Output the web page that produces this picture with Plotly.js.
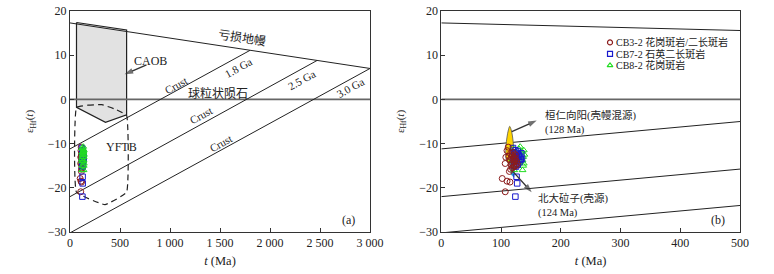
<!DOCTYPE html>
<html><head><meta charset="utf-8">
<script src="https://cdn.plot.ly/plotly-3.0.1.min.js"></script>
<style>html,body{margin:0;padding:0;background:#fff}</style>
</head><body><div id="chart" style="width:774px;height:274px"></div>
<script>
// ---- sample data: t (Ma), eHf(t) ----
const cb32_t = [102,107,110,115,107,108,110,112,114,116,118,120,122,124,125,117,119,121,123,126,115,118,120,122,124,127,116,119,121,113];
const cb32_e = [-17.9,-20.9,-18.5,-18.7,-14.5,-13.1,-11.6,-10.8,-16.3,-12.2,-12.8,-13.5,-14.2,-12.5,-15.0,-14.8,-15.5,-13.0,-13.8,-14.0,-13.6,-14.4,-12.0,-15.2,-13.3,-14.6,-15.8,-12.6,-14.9,-12.9];
const cb72_t = [126,127,124,120,122,124,126,128,130,132,134,121,123,125,127,129,131,133,122,125,128,130,135,124,127];
const cb72_e = [-17.5,-19.0,-22.0,-11.0,-12.0,-11.5,-12.3,-11.8,-12.5,-13.0,-12.2,-13.5,-14.0,-13.2,-14.5,-13.8,-14.2,-13.6,-15.0,-15.2,-14.8,-12.8,-13.5,-12.9,-13.1];
const cb82_t = [132,136,138,137,139,137,135,133,136,138,130,132,128,120,122,124,121,123,125,119,122];
const cb82_e = [-10.7,-16.0,-14.5,-13.0,-12.5,-15.0,-11.8,-12.0,-13.8,-11.5,-11.2,-14.0,-12.5,-11.0,-12.0,-13.0,-14.0,-15.0,-12.5,-13.5,-16.0];
const seriesNames = ['CB3-2 花岗斑岩/二长斑岩','CB7-2 石英二长斑岩','CB8-2 花岗斑岩'];

// ---- reference evolution lines ----
const dm_t = [0, 3000],      dm_e = [17.3, 7.0];
const chur_t = [0, 3000],    chur_e = [0, 0];
const c18_t = [0, 1800],     c18_e = [-11.2, 11.1];
const c25_t = [0, 2470],     c25_e = [-22.0, 8.8];
const c30_t = [0, 3000],     c30_e = [-30.2, 7.0];

// ---- fields ----
const caob_t = [65, 566, 566, 355, 65, 65];
const caob_e = [17.4, 15.7, -3.5, -5.2, -1.8, 17.4];
const yftb_t = [65, 180, 320, 450, 566, 566, 350, 65, 65];
const yftb_e = [-1.8, -1.3, -1.2, -2.2, -3.6, -21.0, -23.8, -21.0, -1.8];
const hr_t = [114.5, 117, 119.3, 120.8, 121, 119.5, 114.5, 109.5, 108, 108.3, 110, 112.3, 114.5];   // Huanren Xiangyang
const hr_e = [-6.1, -6.9, -8.5, -10.5, -12.5, -14, -14.5, -14, -12.5, -10.5, -8.5, -6.9, -6.1];
const bd_t = [118, 121, 123, 121.5, 117, 115, 118];   // Beidawozi
const bd_e = [-11.0, -12.0, -15.0, -17.6, -17.0, -14.0, -11.0];

// ---- pointer arrows (tail -> head) ----
const arrCAOB_t = [765, 546],  arrCAOB_e = [7.8, 5.7];
const arrHR_t = [118, 159.7],  arrHR_e = [-7.3, -4.8];
const arrBD_t = [120.5, 151.3], arrBD_e = [-16.4, -21.0];

const LC = '#222';
const serif = 'Liberation Serif, Noto Sans CJK SC, serif';
const cjk = 'Liberation Serif, Noto Sans CJK SC, serif';

function line(x, y, xa, ya, extra) {
  return Object.assign({type:'scatter', mode:'lines', x:x, y:y, xaxis:xa, yaxis:ya,
    line:{color:LC, width:1}, showlegend:false, hoverinfo:'skip'}, extra || {});
}
function arrowTrace(x, y, xa, ya) {
  return {type:'scatter', mode:'lines+markers', x:x, y:y, xaxis:xa, yaxis:ya, cliponaxis:false,
    line:{color:'#333', width:1.3},
    marker:{symbol:['circle', 'arrow'], size:[0.1, 9], angleref:'previous', color:'#333', line:{width:0}},
    showlegend:false, hoverinfo:'skip'};
}
function sampleTrace(i, xa, ya) {
  const xs = [cb32_t, cb72_t, cb82_t][i], ys = [cb32_e, cb72_e, cb82_e][i];
  const sym = ['circle-open', 'square-open', 'triangle-up-open'][i];
  const col = ['#8b1c1c', '#1a1acc', '#22dd22'][i];
  return {type:'scatter', mode:'markers', name:seriesNames[i], x:xs, y:ys, xaxis:xa, yaxis:ya,
    marker:{symbol:sym, size:(i === 1 ? 5.5 : 6), color:col, line:{width:1}}, showlegend:false};
}

const traces = [];
// panel a
traces.push(line(caob_t, caob_e, 'x', 'y', {fill:'toself', fillcolor:'#e2e2e2', line:{color:LC, width:1.2}}));
traces.push(line(chur_t, chur_e, 'x', 'y', {line:{color:'#666', width:1.6}}));
traces.push(line(dm_t, dm_e, 'x', 'y'));
traces.push(line(c18_t, c18_e, 'x', 'y'));
traces.push(line(c25_t, c25_e, 'x', 'y'));
traces.push(line(c30_t, c30_e, 'x', 'y'));
traces.push(line(yftb_t, yftb_e, 'x', 'y', {line:{color:LC, width:1.2, dash:'6px,4px', shape:'spline', smoothing:0.3}}));
traces.push(arrowTrace(arrCAOB_t, arrCAOB_e, 'x', 'y'));
[0, 1, 2].forEach(i => traces.push(sampleTrace(i, 'x', 'y')));
// panel b
traces.push(line(chur_t, chur_e, 'x2', 'y2', {line:{color:'#666', width:1.6}}));
traces.push(line(dm_t, dm_e, 'x2', 'y2'));
traces.push(line(c18_t, c18_e, 'x2', 'y2'));
traces.push(line(c25_t, c25_e, 'x2', 'y2'));
traces.push(line(c30_t, c30_e, 'x2', 'y2'));
traces.push(line(hr_t, hr_e, 'x2', 'y2', {fill:'toself', fillcolor:'#ffd400', line:{color:'#555', width:0.8, shape:'spline'}}));
traces.push(line(bd_t, bd_e, 'x2', 'y2', {fill:'toself', fillcolor:'#1e9be0', line:{color:'#1e9be0', width:0.5}}));
[2, 1, 0].forEach(i => traces.push(sampleTrace(i, 'x2', 'y2')));
traces.push(arrowTrace(arrHR_t, arrHR_e, 'x2', 'y2'));
traces.push(arrowTrace(arrBD_t, arrBD_e, 'x2', 'y2'));

// manual legend in panel b
const leg_t = [282.4, 282.4, 282.4];
const leg_e = [12.9, 10.3, 7.7];
const legSym = ['circle-open', 'square-open', 'triangle-up-open'];
const legCol = ['#8b1c1c', '#1a1acc', '#22dd22'];
for (let i = 0; i < 3; i++) {
  traces.push({type:'scatter', mode:'markers', x:[leg_t[i]], y:[leg_e[i]], xaxis:'x2', yaxis:'y2',
    marker:{symbol:legSym[i], size:5, color:legCol[i], line:{width:1.2}}, showlegend:false, hoverinfo:'skip'});
}

function txt(x, y, text, xa, ya, opts) {
  return Object.assign({x:x, y:y, xref:xa, yref:ya, text:text, showarrow:false, borderpad:0,
    font:{family:cjk, size:12, color:'#222'}}, opts || {});
}
const f11 = {family:serif, size:11, color:'#222'};
const f10 = {family:cjk, size:10.5, color:'#222'};

const annotations = [
  txt(1715, 13.9, '亏损地幔', 'x', 'y', {textangle:8.6}),
  txt(800, 8.7, 'CAOB', 'x', 'y', {xanchor:'center'}),
  txt(1680, 7.0, '1.8 Ga', 'x', 'y', {textangle:-29, font:f11}),
  txt(1064, 3.3, 'Crust', 'x', 'y', {textangle:-29, font:f11}),
  txt(1480, 1.4, '球粒状陨石', 'x', 'y'),
  txt(2316, 4.4, '2.5 Ga', 'x', 'y', {textangle:-29, font:f11}),
  txt(1314, -3.5, 'Crust', 'x', 'y', {textangle:-29, font:f11}),
  txt(2800, 2.5, '3.0 Ga', 'x', 'y', {textangle:-29, font:f11}),
  txt(1514, -9.9, 'Crust', 'x', 'y', {textangle:-29, font:f11}),
  txt(345, -10.7, 'YFTB', 'x', 'y', {xanchor:'left', font:{family:serif, size:12, color:'#222'}}),
  txt(2783, -27.3, '(a)', 'x', 'y', {font:{family:serif, size:12, color:'#222'}}),
  // panel b
  txt(172, -5.4, '桓仁向阳(壳幔混源)', 'x2', 'y2', {xanchor:'left', yanchor:'bottom', font:f10}),
  txt(172, -5.4, '(128 Ma)', 'x2', 'y2', {xanchor:'left', yanchor:'top', font:f10}),
  txt(160, -24.1, '北大砬子(壳源)', 'x2', 'y2', {xanchor:'left', yanchor:'bottom', font:f10}),
  txt(160, -24.1, '(124 Ma)', 'x2', 'y2', {xanchor:'left', yanchor:'top', font:f10}),
  txt(463.6, -27.3, '(b)', 'x2', 'y2', {font:{family:serif, size:12, color:'#222'}})
];
for (let i = 0; i < 3; i++) {
  annotations.push(txt(291, leg_e[i], seriesNames[i], 'x2', 'y2', {xanchor:'left', font:{family:cjk, size:10, color:'#222'}}));
}

const xa_vals = [0, 500, 1000, 1500, 2000, 2500, 3000];
const xa_text = ['0', '500', '1 000', '1 500', '2 000', '2 500', '3 000'];
const xb_vals = [0, 100, 200, 300, 400, 500];
const y_vals = [-30, -20, -10, 0, 10, 20];

const axBase = {showline:true, linecolor:'#333', linewidth:1, mirror:true, ticks:'inside', ticklen:4,
  tickcolor:'#333', showgrid:false, zeroline:false, tickfont:{family:serif, size:12, color:'#222'}};
const ytitle1 = {text:'ε<sub>Hf</sub>(<i>t</i>)', font:{family:serif, size:11, color:'#222'}, standoff:11};
const ytitle2 = {text:'ε<sub>Hf</sub>(<i>t</i>)', font:{family:serif, size:11, color:'#222'}, standoff:12};
const xtitle = {text:'<i>t</i> (Ma)', font:{family:serif, size:12.5, color:'#222'}, standoff:6};

const layout = {
  width:774, height:274, margin:{l:70, r:34, t:11, b:42},
  paper_bgcolor:'#fff', plot_bgcolor:'#fff', showlegend:false,
  xaxis: Object.assign({}, axBase, {domain:[0, 0.4478], range:[0, 3000], tickvals:xa_vals, ticktext:xa_text, title:xtitle, anchor:'y'}),
  yaxis: Object.assign({}, axBase, {range:[-30, 20], tickvals:y_vals, title:ytitle1, anchor:'x'}),
  xaxis2: Object.assign({}, axBase, {domain:[0.5542, 1], range:[0, 500], tickvals:xb_vals, title:xtitle, anchor:'y2'}),
  yaxis2: Object.assign({}, axBase, {range:[-30, 20], tickvals:y_vals, title:ytitle2, anchor:'x2'}),
  annotations: annotations
};

Plotly.newPlot('chart', traces, layout, {displayModeBar:false, staticPlot:true});
</script></body></html>
